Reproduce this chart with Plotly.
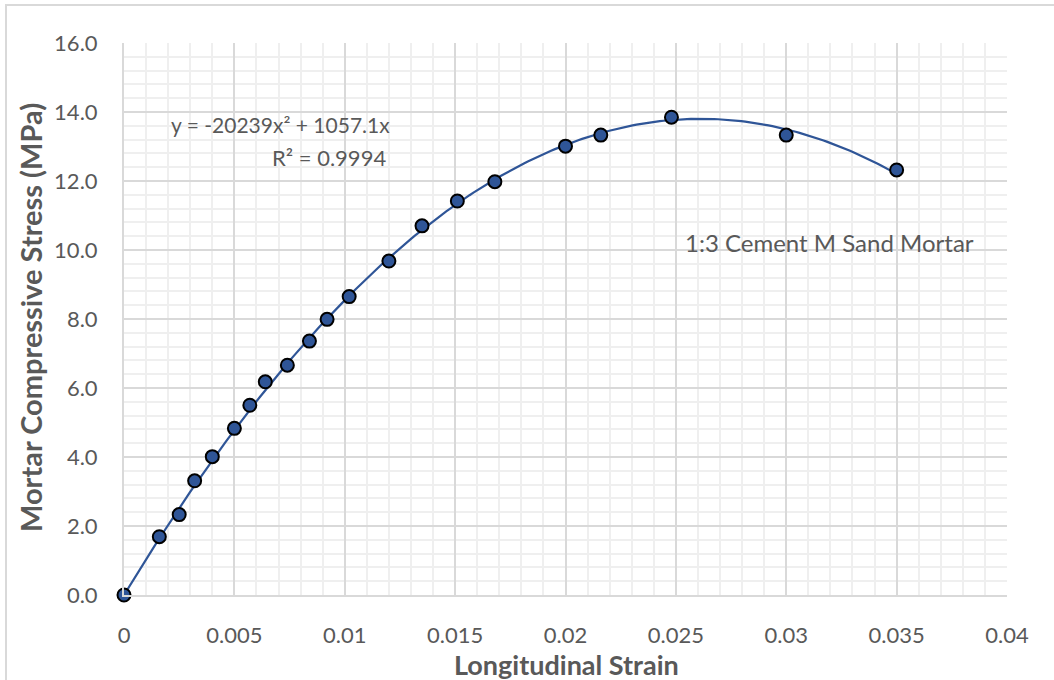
import numpy as np
import plotly.graph_objects as go

strain = [0, 0.0016, 0.0025, 0.0032, 0.0040, 0.0050, 0.0057, 0.0064, 0.0074, 0.0084,
          0.0092, 0.0102, 0.0120, 0.0135, 0.0151, 0.0168, 0.0200, 0.0216, 0.0248,
          0.0300, 0.0350]
stress = [0, 1.69, 2.33, 3.31, 4.01, 4.83, 5.50, 6.18, 6.66, 7.36,
          7.99, 8.65, 9.68, 10.70, 11.42, 11.98, 13.01, 13.33, 13.85,
          13.33, 12.32]

trend_a = -20239.0
trend_b = 1057.1
x_ticks = [0, 0.005, 0.01, 0.015, 0.02, 0.025, 0.03, 0.035, 0.04]
x_ticktext = ["0", "0.005", "0.01", "0.015", "0.02", "0.025", "0.03", "0.035", "0.04"]
y_ticks = [0, 2, 4, 6, 8, 10, 12, 14, 16]

tx = np.linspace(0, max(strain), 200)
ty = trend_a * tx ** 2 + trend_b * tx

blue = "#2F5597"
grey = "#595959"
font = "Lato"

fig = go.Figure()
fig.add_trace(go.Scatter(x=tx, y=ty, mode="lines",
                         line=dict(color=blue, width=2.2), hoverinfo="skip",
                         showlegend=False))
fig.add_trace(go.Scatter(x=strain, y=stress, mode="markers",
                         marker=dict(color=blue, size=13,
                                     line=dict(color="black", width=2)),
                         showlegend=False, cliponaxis=False))

fig.update_layout(
    width=1054, height=680,
    margin=dict(l=124, r=47, t=43, b=85),
    paper_bgcolor="white", plot_bgcolor="white",
    font=dict(family=font, color=grey, size=22),
)
fig.update_xaxes(
    range=[0, 0.04], tickvals=x_ticks, ticktext=x_ticktext,
    showgrid=True, gridcolor="#d9d9d9", gridwidth=2,
    minor=dict(dtick=0.001, showgrid=True, gridcolor="#efefef", gridwidth=2),
    zeroline=False, showline=True, linecolor="#d9d9d9", linewidth=2,
    ticks="", ticklabelstandoff=20,
    tickfont=dict(size=22, color=grey, family=font),
)
fig.update_yaxes(
    range=[0, 16], tickvals=y_ticks, tickformat=".1f",
    showgrid=True, gridcolor="#d9d9d9", gridwidth=2,
    minor=dict(dtick=0.4, showgrid=True, gridcolor="#efefef", gridwidth=2),
    zeroline=False, showline=True, linecolor="#d9d9d9", linewidth=2,
    ticks="", ticklabelstandoff=20,
    tickfont=dict(size=22, color=grey, family=font),
)

# axis titles
fig.add_annotation(text="<b>Longitudinal Strain</b>", xref="paper", yref="paper",
                   x=(566 - 124) / 883, y=-(664 - 595) / 552, xanchor="center", yanchor="middle",
                   showarrow=False, font=dict(size=27, color=grey, family=font))
fig.add_annotation(text="<b>Mortar Compressive Stress (MPa)</b>", xref="paper", yref="paper",
                   x=-(124 - 30) / 883, y=(595 - 318) / 552, xanchor="center", yanchor="middle",
                   textangle=-90, showarrow=False, font=dict(size=29, color=grey, family=font))

# trendline equation
fig.add_annotation(text="y = -20239x² + 1057.1x", x=0.01214, y=(595 - 124) / 34.5,
                   xanchor="right", yanchor="middle", showarrow=False,
                   font=dict(size=21, color=grey, family=font))
fig.add_annotation(text="R² = 0.9994", x=0.01196, y=(595 - 157) / 34.5,
                   xanchor="right", yanchor="middle", showarrow=False,
                   font=dict(size=22, color=grey, family=font))
fig.add_annotation(text="1:3 Cement M Sand Mortar", x=0.02532, y=(595 - 242) / 34.5,
                   xanchor="left", yanchor="middle", showarrow=False,
                   font=dict(size=24, color=grey, family=font))

# outer chart border
fig.add_shape(type="rect", xref="paper", yref="paper",
              x0=-(124 - 6) / 883, x1=1.3, y0=-0.4, y1=1 + (43 - 5) / 552,
              line=dict(color="#d9d9d9", width=2), layer="below")

fig.write_html("out.html")
